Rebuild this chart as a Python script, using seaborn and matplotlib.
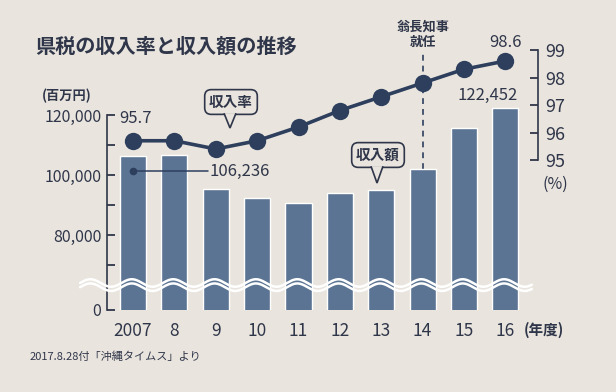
import numpy as np
import matplotlib
matplotlib.use("Agg")
import matplotlib.pyplot as plt
import seaborn as sns
from matplotlib.patches import Polygon

# data
years = ["2007", "8", "9", "10", "11", "12", "13", "14", "15", "16"]
amount = [106236, 106750, 95400, 92450, 90650, 94150, 94900, 101850, 115600, 122452]  # 百万円
rate = [95.7, 95.7, 95.4, 95.7, 96.2, 96.8, 97.3, 97.8, 98.3, 98.6]  # %

left_ticks = [55000, 80000, 100000, 120000]
left_labels = ["0", "80,000", "100,000", "120,000"]
left_minor = [70000, 90000, 110000]
right_ticks = [95, 96, 97, 98, 99]

bg = "#e9e5de"
bar_c = "#5b7493"
line_c = "#2e3f5e"
txt_c = "#30364a"

sns.set_theme(style="white")
plt.rcParams["font.family"] = ["Noto Sans CJK JP", "DejaVu Sans"]

W, H = 616, 392
fx = lambda x: x / W
fy = lambda y: 1 - y / H

fig = plt.figure(figsize=(6.16, 3.92), dpi=100, facecolor=bg)
ax = fig.add_axes([fx(107), fy(310), (538 - 107) / W, 270 / H])
ax.set_facecolor("none")
ax2 = ax.twinx()

sns.barplot(x=years, y=amount, color=bar_c, saturation=1, width=0.63, ax=ax, zorder=2)
sns.lineplot(x=range(len(years)), y=rate, ax=ax2, color=line_c, lw=2.6,
             marker="o", markersize=12.5, markeredgewidth=0, zorder=5)

ax.set_xlim(-0.63, 9.79)
ax.set_ylim(55000, 145000)
ax2.set_ylim(89.545, 99.364)

for s in ["top", "right", "bottom"]:
    ax.spines[s].set_visible(False)
for s in ["top", "left", "bottom"]:
    ax2.spines[s].set_visible(False)
ax.spines["left"].set_bounds(55000, 120000)
ax.spines["left"].set_color(txt_c)
ax.spines["left"].set_linewidth(1.2)
ax2.spines["right"].set_bounds(95, 99)
ax2.spines["right"].set_color(txt_c)
ax2.spines["right"].set_linewidth(1.2)

ax.set_yticks(left_ticks, left_labels)
ax.set_yticks(left_minor, minor=True)
ax.tick_params(axis="y", which="major", direction="in", length=6, width=1.3,
               color=txt_c, labelcolor=txt_c, labelsize=11.5, pad=4, left=True)
ax.tick_params(axis="y", which="minor", direction="in", length=6, width=1.3,
               color=txt_c, left=True)
ax.set_xticks(range(len(years)), years)
ax.tick_params(axis="x", length=0, pad=9, labelsize=12.5, labelcolor=txt_c)
ax.set_xlabel("")
ax.set_ylabel("")

ax2.set_yticks(right_ticks)
ax2.tick_params(axis="y", direction="in", length=6, width=1.3, color=txt_c,
                labelcolor=txt_c, labelsize=13, pad=5, right=True)
ax2.set_ylabel("")
ax2.grid(False)
ax.grid(False)

# break mark across the bars
wx = np.linspace(-1.28, 9.64, 600)
wave = 1250 * np.sin(2 * np.pi * (wx + 1.28) / 1.0)
for off in (-700, 700):
    ax.plot(wx, 63300 + off + wave, color="white", lw=1.8, zorder=6, clip_on=False)

# governor took office (2014)
ax.vlines(7, amount[7], 140500, colors=line_c, lw=1.2, linestyles=(0, (3.5, 3)), zorder=1)
ax.text(7, 147000, "翁長知事\n就任", ha="center", va="center", fontsize=9.5,
        fontweight="bold", color=txt_c, linespacing=1.15)

# value labels
ax2.annotate(f"{rate[0]}", xy=(0, rate[0]), xytext=(2, 22), textcoords="offset pixels",
             ha="center", va="center", fontsize=12, color=txt_c)
ax2.annotate(f"{rate[-1]}", xy=(9, rate[-1]), xytext=(0, 19), textcoords="offset pixels",
             ha="center", va="center", fontsize=12, color=txt_c)
ax.annotate(f"{amount[-1]:,}", xy=(9, amount[-1]), xytext=(-18, 12), textcoords="offset pixels",
            ha="center", va="center", fontsize=12, color=txt_c)

dot_y = amount[0] - 5000
ax.plot([0, 1.8], [dot_y, dot_y], color=line_c, lw=1.1, zorder=4)
ax.plot([0], [dot_y], "o", color=line_c, ms=4.5, zorder=4)
ax.text(1.86, dot_y, f"{amount[0]:,}", ha="left", va="center", fontsize=12, color=txt_c)


def bubble(cx, cy, tip_x, tip_y, bottom, label):
    fig.text(fx(cx), fy(cy), label, ha="center", va="center", fontsize=10.5,
             fontweight="bold", color=txt_c,
             bbox=dict(boxstyle="round,pad=0.3,rounding_size=0.45", fc=bg, ec=txt_c, lw=1.2))
    poly = Polygon([(fx(tip_x - 6), fy(bottom - 0.8)), (fx(tip_x), fy(tip_y)),
                    (fx(tip_x + 6), fy(bottom - 0.8))], closed=False,
                   transform=fig.transFigure, fc=bg, ec=txt_c, lw=1.2, zorder=6)
    fig.add_artist(poly)


bubble(231, 102, 230, 128, 114, "収入率")
bubble(378, 155, 377, 183, 167, "収入額")

# texts around the chart
fig.text(fx(35), fy(46), "県税の収入率と収入額の推移", fontsize=14.5, fontweight="bold",
         color=txt_c, va="center", ha="left")
fig.text(fx(42), fy(96), "(百万円)", fontsize=9.5, fontweight="bold", color=txt_c, va="center")
fig.text(fx(543), fy(184), "(%)", fontsize=11.5, color=txt_c, va="center")
fig.text(fx(524), fy(330), "(年度)", fontsize=10.5, fontweight="bold", color=txt_c, va="center")
fig.text(fx(30), fy(357), "2017.8.28付「沖縄タイムス」より", fontsize=8, color=txt_c, va="center")

fig.savefig("out.png", dpi=100, facecolor=bg)
